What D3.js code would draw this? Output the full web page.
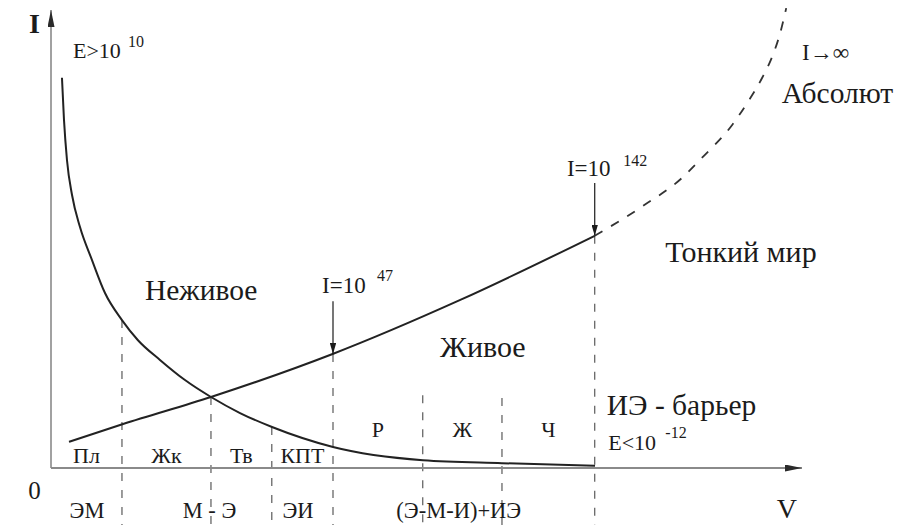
<!DOCTYPE html>
<html>
<head>
<meta charset="utf-8">
<script src="https://cdn.jsdelivr.net/npm/d3@7"></script>
<style>
  html, body { margin: 0; padding: 0; background: #fff; }
  svg { display: block; }
</style>
</head>
<body>
<svg id="chart" width="911" height="525"></svg>
<script>
// Intensity I against level of organisation V, arbitrary units 0–100 on both axes.

// Falling branch: inanimate matter
const inanimateCurve = [
  [1.46, 85.2], [1.73, 76.0], [2.13, 67.2], [2.80, 59.6], [3.86, 52.6],
  [5.46, 45.4], [7.19, 38.2], [9.45, 32.3], [11.58, 27.9], [14.51, 23.6],
  [17.84, 19.2], [21.30, 15.5], [25.17, 12.0], [29.43, 8.95], [37.55, 4.59],
  [49.53, 1.7], [60.05, 1.05], [72.44, 0.5]
];

// Rising branch: living matter (solid part)
const livingCurve = [
  [2.4, 5.7], [9.6, 9.6], [21.3, 15.5], [37.5, 24.9], [54.5, 36.7], [72.4, 50.7]
];

// Rising branch continued beyond the barrier (dashed, I → ∞)
const livingBeyond = [
  [72.4, 50.7], [79.0, 57.4], [84.0, 63.3], [86.6, 67.6], [90.7, 74.9],
  [92.7, 79.7], [94.7, 85.2], [96.0, 89.7], [97.1, 95.0], [97.9, 100.4]
];

// Vertical boundaries between states and where each one starts
const dividers    = [9.45, 21.3, 29.4, 37.55, 49.5, 60.05, 72.4];
const dividerTops = [32.3, 15.5, 8.95, 24.9, 15.9, 15.3, 50.7];

// States of matter, one per span between boundaries (span starts at the axis)
const stateLabels = ["Пл", "Жк", "Тв", "КПТ", "Р", "Ж", "Ч"];
const stateLevels = [1.1, 1.1, 1.1, 1.1, 6.8, 6.8, 6.8];

// Interaction types under the axis, with their centres on V
const interactionLabels  = ["ЭМ", "М - Э", "ЭИ", "(Э-М-И)+ИЭ"];
const interactionCentres = [4.8, 21.1, 32.9, 54.3];

// Marked intensities on the living branch
const markLabels   = ["I=10", "I=10"];
const markPowers   = ["47", "142"];
const markV        = [37.55, 72.4];
const markI        = [24.9, 50.7];

const FONT = '"Liberation Serif"';
const INK = "#1b1b1b";

const svg = d3.select("#chart");
const x = d3.scaleLinear().domain([0, 100]).range([51, 802]);
const y = d3.scaleLinear().domain([0, 100]).range([468, 10]);

const defs = svg.append("defs");
function arrowMarker(id, len, half, color) {
  defs.append("marker")
    .attr("id", id)
    .attr("viewBox", `0 ${-half} ${len} ${2 * half}`)
    .attr("refX", len).attr("refY", 0)
    .attr("markerWidth", len).attr("markerHeight", 2 * half)
    .attr("markerUnits", "userSpaceOnUse")
    .attr("orient", "auto")
    .append("path")
    .attr("d", `M0,${-half}L${len},0L0,${half}Z`)
    .attr("fill", color);
}
arrowMarker("axisHead", 17, 3.5, "#2a2a2a");
arrowMarker("markHead", 11, 3.2, INK);

// Boundaries between states
svg.append("g").selectAll("line")
  .data(dividers)
  .join("line")
  .attr("x1", d => x(d)).attr("x2", d => x(d))
  .attr("y1", (d, i) => y(dividerTops[i]))
  .attr("y2", 525)
  .attr("stroke", "#5a5a5a")
  .attr("stroke-width", 1.2)
  .attr("stroke-dasharray", "8,9");

// Axes
svg.append("line")
  .attr("x1", x(0)).attr("y1", y(0)).attr("x2", x(0)).attr("y2", y(100))
  .attr("stroke", "#8a8a8a").attr("stroke-width", 1.6)
  .attr("marker-end", "url(#axisHead)");
svg.append("line")
  .attr("x1", x(0)).attr("y1", y(0)).attr("x2", x(100)).attr("y2", y(0))
  .attr("stroke", "#8a8a8a").attr("stroke-width", 1.8)
  .attr("marker-end", "url(#axisHead)");

// Curves
const line = d3.line().x(d => x(d[0])).y(d => y(d[1])).curve(d3.curveMonotoneX);
svg.append("path").datum(inanimateCurve).attr("d", line)
  .attr("fill", "none").attr("stroke", "#222").attr("stroke-width", 2);
svg.append("path").datum(livingCurve).attr("d", line)
  .attr("fill", "none").attr("stroke", "#222").attr("stroke-width", 2);
svg.append("path").datum(livingBeyond).attr("d", line)
  .attr("fill", "none").attr("stroke", "#333").attr("stroke-width", 1.8)
  .attr("stroke-dasharray", "9,10");

// Marked intensities: arrow down onto the curve with label above
const markArrowLen = 11.5;
markV.forEach((v, i) => {
  svg.append("line")
    .attr("x1", x(v)).attr("x2", x(v))
    .attr("y1", y(markI[i] + markArrowLen)).attr("y2", y(markI[i]))
    .attr("stroke", INK).attr("stroke-width", 1.2)
    .attr("marker-end", "url(#markHead)");
});

function label(txt, v, i, size, anchor = "start") {
  return svg.append("text")
    .attr("x", x(v)).attr("y", y(i))
    .attr("font-size", size)
    .attr("text-anchor", anchor)
    .style("font-family", FONT)
    .attr("fill", INK)
    .text(txt);
}

// Marked intensity labels with their powers of ten
label(markLabels[0], 36.1, 38.2, 23);
label(markPowers[0], 43.4, 40.8, 16);
label(markLabels[1], 68.7, 63.8, 23);
label(markPowers[1], 76.2, 65.9, 16);

// State labels, centred in their spans
const bounds = [0, ...dividers];
svg.append("g").selectAll("text")
  .data(stateLabels)
  .join("text")
  .attr("x", (d, i) => x((bounds[i] + bounds[i + 1]) / 2))
  .attr("y", (d, i) => y(stateLevels[i]))
  .attr("text-anchor", "middle")
  .attr("font-size", 22)
  .style("font-family", FONT)
  .attr("fill", INK)
  .text(d => d);

// Interaction labels under the axis
svg.append("g").selectAll("text")
  .data(interactionLabels)
  .join("text")
  .attr("x", (d, i) => x(interactionCentres[i]))
  .attr("y", y(-10.9))
  .attr("text-anchor", "middle")
  .attr("font-size", 22.5)
  .style("font-family", FONT)
  .attr("fill", INK)
  .text(d => d);

// Axis names and origin
label("I", -2.2, 95.0, 28, "middle").attr("font-weight", "bold");
label("0", -2.2, -6.8, 25, "middle");
label("V", 98.0, -10.9, 28, "middle");

// Energy bounds
label("E>10", 2.93, 89.5, 22);
label("10", 10.25, 91.9, 16);
label("E<10", 74.2, 3.9, 22);
label("-12", 81.8, 6.55, 16);

// Regions
label("Неживое", 12.5, 36.7, 29.5);
label("Живое", 51.8, 24.2, 30);
label("Тонкий мир", 81.8, 45.0, 30);
label("ИЭ - барьер", 74.0, 11.6, 29.5);
label("I→∞", 100, 89.1, 23);
label("Абсолют", 97.3, 79.7, 29.5);
</script>
</body>
</html>
